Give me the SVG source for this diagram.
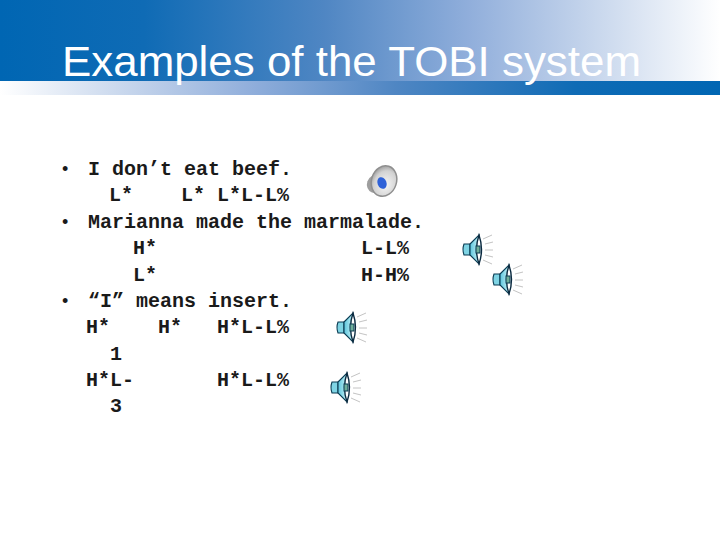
<svg xmlns="http://www.w3.org/2000/svg" width="720" height="540" viewBox="0 0 720 540">
<style>
.t{font-family:"Liberation Mono","Courier New",monospace;font-size:20px;font-weight:bold;fill:#1a1a1a}
.b{font-family:"Liberation Sans",Arial,sans-serif;font-size:18px;fill:#1a1a1a}
.title{font-family:"Liberation Sans",Arial,sans-serif;font-size:43px;fill:#fff}
.ray{stroke:#c4c4c4;stroke-width:1;fill:none}
</style>
<defs>
<linearGradient id="g1" x1="0" x2="1" y1="0" y2="0">
<stop offset="0" stop-color="#0066b3"/><stop offset="0.2" stop-color="#0f6bb5"/><stop offset="0.45" stop-color="#4f86c3"/><stop offset="0.65" stop-color="#90aedb"/><stop offset="0.85" stop-color="#cfdcef"/><stop offset="1" stop-color="#fff"/>
</linearGradient>
<linearGradient id="g2" x1="1" x2="0" y1="0" y2="0">
<stop offset="0" stop-color="#0066b3"/><stop offset="0.2" stop-color="#0f6bb5"/><stop offset="0.45" stop-color="#4f86c3"/><stop offset="0.65" stop-color="#90aedb"/><stop offset="0.85" stop-color="#cfdcef"/><stop offset="1" stop-color="#fff"/>
</linearGradient>
<linearGradient id="cone" x1="0" x2="1" y1="0" y2="0"><stop offset="0" stop-color="#5cc4dc"/><stop offset="1" stop-color="#c8f4f8"/></linearGradient>
<radialGradient id="grey" cx="0.6" cy="0.6" r="0.7"><stop offset="0" stop-color="#f6f6f6"/><stop offset="0.65" stop-color="#d2d2d2"/><stop offset="1" stop-color="#8b8b8b"/></radialGradient>
<g id="spk">
<path d="M1 -5H7V6H1Q-1 .5 1 -5Z" fill="#7fd4e4" stroke="#0a3b52" stroke-width="1.1"/>
<path d="M7 -5L16 -14V15L7 6Z" fill="url(#cone)" stroke="#0a3b52" stroke-width="1.1"/>
<path d="M16 -14Q11 .5 16 15Q21 .5 16 -14Z" fill="#fff" stroke="#0a2a40" stroke-width="1.4"/>
<rect x="13" y="-3" width="4" height="7" fill="#6fae9a" stroke="#0a3b52" stroke-width="1"/>
<path class="ray" d="M20 -10L29 -14M22 -5L30 -7M22 1H30M22 6L30 8M20 11L29 15"/>
</g>
</defs>
<rect width="720" height="540" fill="#fff"/>
<rect x="0" y="0" width="720" height="81" fill="url(#g1)"/>
<rect x="0" y="81" width="720" height="14" fill="url(#g2)"/>
<text class="title" x="62" y="76" textLength="579" lengthAdjust="spacingAndGlyphs">Examples of the TOBI system</text>

<text class="b" x="62" y="175">•</text>
<text class="t" x="88" y="175">I don’t eat beef.</text>
<text class="t" x="109" y="201">L*</text>
<text class="t" x="181" y="201">L*</text>
<text class="t" x="217" y="201">L*L-L%</text>
<text class="b" x="62" y="228">•</text>
<text class="t" x="88" y="228">Marianna made the marmalade.</text>
<text class="t" x="133" y="254">H*</text>
<text class="t" x="361" y="254">L-L%</text>
<text class="t" x="133" y="281">L*</text>
<text class="t" x="361" y="281">H-H%</text>
<text class="b" x="62" y="307">•</text>
<text class="t" x="88" y="307">“I” means insert.</text>
<text class="t" x="86" y="333">H*</text>
<text class="t" x="158" y="333">H*</text>
<text class="t" x="217" y="333">H*L-L%</text>
<text class="t" x="110" y="360">1</text>
<text class="t" x="86" y="386">H*L-</text>
<text class="t" x="217" y="386">H*L-L%</text>
<text class="t" x="110" y="412">3</text>

<g id="speaker-1">
<ellipse cx="375" cy="184" rx="8" ry="9" fill="#9e9e9e" transform="rotate(20 375 184)"/>
<ellipse cx="384" cy="181" rx="12.500" ry="15.500" fill="url(#grey)" stroke="#8f8f8f" stroke-width="1.500" transform="rotate(18 384 181)"/>
<ellipse cx="382" cy="183" rx="4.500" ry="6" fill="#2f62d8" transform="rotate(-20 382 183)"/>
</g>
<use href="#spk" x="463" y="249"/>
<use href="#spk" x="493" y="279"/>
<use href="#spk" x="337" y="327"/>
<use href="#spk" x="331" y="387"/>
</svg>
